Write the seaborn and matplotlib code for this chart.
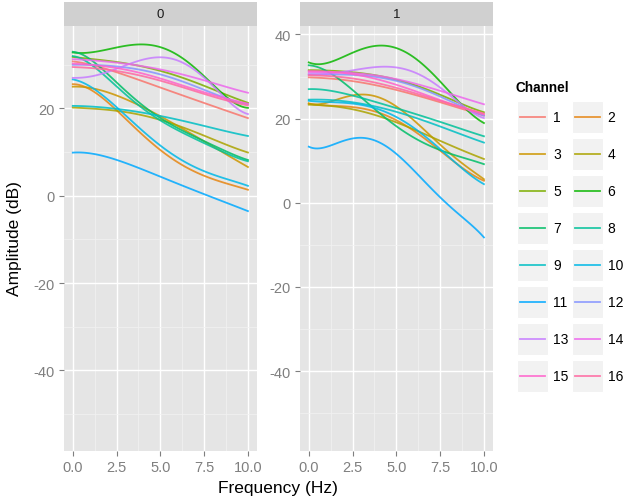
import numpy as np
import pandas as pd
import matplotlib
matplotlib.use("Agg")
import matplotlib.pyplot as plt
from matplotlib.patches import Rectangle
from matplotlib.lines import Line2D
import seaborn as sns

# ---------------------------------------------------------------- data
freq = [0, 1.25, 2.5, 3.75, 5, 6.25, 7.5, 8.75, 10]
channels = list(range(1, 17))
conditions = ["0", "1"]

# condition 0, smoothed amplitude (dB) per channel
c0_ch1 = [30.8, 29.8, 28.3, 26.6, 24.8, 23.0, 21.3, 19.5, 17.8]
c0_ch2 = [25.6, 23.6, 19.8, 14.8, 10.3, 7.2, 4.6, 2.8, 1.4]
c0_ch3 = [25.0, 24.5, 23.0, 20.8, 18.2, 15.4, 12.5, 9.5, 6.6]
c0_ch4 = [20.2, 20.0, 19.4, 18.6, 17.5, 15.7, 13.7, 11.8, 9.9]
c0_ch5 = [31.8, 31.3, 30.6, 29.8, 28.7, 27.0, 25.2, 23.2, 21.3]
c0_ch6 = [32.8, 33.1, 33.8, 34.7, 34.1, 31.7, 27.1, 22.9, 20.1]
c0_ch7 = [33.0, 30.5, 26.0, 21.5, 17.8, 15.0, 12.5, 10.2, 8.2]
c0_ch8 = [32.0, 29.5, 25.0, 20.8, 17.3, 14.5, 12.0, 9.8, 7.9]
c0_ch9 = [20.6, 20.4, 19.9, 19.2, 18.3, 17.2, 16.0, 14.8, 13.7]
c0_ch10 = [26.7, 24.2, 20.6, 15.6, 11.4, 8.2, 5.7, 3.8, 2.3]
c0_ch11 = [9.9, 9.5, 8.3, 6.4, 4.3, 2.4, 0.4, -1.6, -3.5]
c0_ch12 = [30.0, 30.0, 29.6, 28.9, 27.9, 26.2, 24.2, 22.4, 21.0]
c0_ch13 = [27.0, 27.6, 29.0, 30.9, 31.8, 30.6, 26.9, 22.3, 18.7]
c0_ch14 = [31.3, 31.0, 30.5, 29.8, 29.0, 27.8, 26.4, 25.0, 23.6]
c0_ch15 = [30.3, 29.9, 29.3, 28.2, 26.9, 25.3, 23.7, 22.3, 21.1]
c0_ch16 = [29.5, 29.2, 28.6, 27.6, 26.4, 24.9, 23.3, 21.9, 20.7]

# condition 1, smoothed amplitude (dB) per channel
c1_ch1 = [29.8, 29.5, 28.9, 28.0, 26.8, 25.4, 23.9, 22.3, 20.7]
c1_ch2 = [23.5, 23.2, 22.6, 21.6, 19.9, 16.3, 12.2, 8.5, 5.2]
c1_ch3 = [23.6, 24.2, 25.2, 25.6, 22.9, 18.5, 13.9, 9.4, 5.6]
c1_ch4 = [23.3, 23.0, 22.2, 20.9, 19.1, 17.0, 14.7, 12.5, 10.4]
c1_ch5 = [31.5, 31.4, 31.0, 30.3, 29.3, 27.7, 25.6, 23.5, 21.5]
c1_ch6 = [33.3, 33.7, 35.3, 37.3, 37.0, 33.7, 28.6, 23.4, 18.9]
c1_ch7 = [32.7, 30.6, 27.0, 22.3, 18.0, 15.0, 12.6, 10.7, 9.2]
c1_ch8 = [27.0, 26.6, 25.5, 24.0, 22.5, 20.9, 19.2, 17.5, 15.8]
c1_ch9 = [24.5, 24.4, 23.9, 22.9, 21.6, 20.0, 18.1, 16.2, 14.3]
c1_ch10 = [24.2, 24.0, 23.5, 22.4, 20.6, 17.0, 12.6, 8.3, 4.4]
c1_ch11 = [13.3, 13.8, 14.8, 15.4, 11.4, 6.4, 1.6, -3.5, -8.2]
c1_ch12 = [30.5, 30.5, 30.4, 29.9, 29.0, 27.4, 25.2, 22.9, 20.7]
c1_ch13 = [30.5, 30.8, 31.4, 32.1, 32.3, 30.7, 27.1, 23.4, 20.1]
c1_ch14 = [31.0, 31.0, 30.8, 30.3, 29.4, 28.1, 26.6, 25.0, 23.4]
c1_ch15 = [31.3, 31.1, 30.6, 29.5, 28.0, 26.3, 24.4, 22.6, 21.0]
c1_ch16 = [30.3, 30.1, 29.5, 28.6, 27.3, 25.8, 24.2, 22.7, 21.2]

x_ticks = [0.0, 2.5, 5.0, 7.5, 10.0]
y_ticks = [-40, -20, 0, 20, 40]

series = {
    "0": [c0_ch1, c0_ch2, c0_ch3, c0_ch4, c0_ch5, c0_ch6, c0_ch7, c0_ch8,
          c0_ch9, c0_ch10, c0_ch11, c0_ch12, c0_ch13, c0_ch14, c0_ch15, c0_ch16],
    "1": [c1_ch1, c1_ch2, c1_ch3, c1_ch4, c1_ch5, c1_ch6, c1_ch7, c1_ch8,
          c1_ch9, c1_ch10, c1_ch11, c1_ch12, c1_ch13, c1_ch14, c1_ch15, c1_ch16],
}

rows = []
for cond in conditions:
    for ch, vals in zip(channels, series[cond]):
        for f, a in zip(freq, vals):
            rows.append({"cond": cond, "Channel": ch, "Frequency": f, "Amplitude": a})
df = pd.DataFrame(rows)


# ------------------------------------------------------- hue palette (HCL)
def hcl_to_hex(h, c=100.0, l=65.0):
    Xn, Yn, Zn = 95.047, 100.0, 108.883
    U = c * np.cos(np.radians(h))
    V = c * np.sin(np.radians(h))
    Y = Yn * ((l + 16) / 116) ** 3 if l > 8 else Yn * l / 903.3
    un = 4 * Xn / (Xn + 15 * Yn + 3 * Zn)
    vn = 9 * Yn / (Xn + 15 * Yn + 3 * Zn)
    up = U / (13 * l) + un
    vp = V / (13 * l) + vn
    X = 9.0 * Y * up / (4 * vp)
    Z = -X / 3 - 5 * Y + 3 * Y / vp
    xyz = np.array([X, Y, Z]) / 100.0
    M = np.array([[3.240479, -1.537150, -0.498535],
                  [-0.969256, 1.875992, 0.041556],
                  [0.055648, -0.204043, 1.057311]])
    rgb = M @ xyz

    def gam(u):
        return 12.92 * u if u <= 0.0031308 else 1.055 * u ** (1 / 2.4) - 0.055

    rgb = np.clip([gam(u) for u in rgb], 0, 1)
    return matplotlib.colors.to_hex(rgb)


n = len(channels)
hues = np.linspace(15, 375, n + 1)[:-1]
palette = {ch: hcl_to_hex(h) for ch, h in zip(channels, hues)}

# ------------------------------------------------------------- figure
W, H = 625, 502
plt.rcParams["font.family"] = ["Liberation Sans", "DejaVu Sans"]
fig = plt.figure(figsize=(W / 100, H / 100), dpi=100)


def px_axes(l, t, r, b, **kw):
    return fig.add_axes([l / W, 1 - b / H, (r - l) / W, (b - t) / H], **kw)


panel_px = {"0": (64, 256.7), "1": (300, 492.7)}
ylims = {"0": (-58.4, 38.9), "1": (-58.9, 42.0)}
top, bottom = 27, 451.7
grey50 = "#7F7F7F"

for cond in conditions:
    l, r = panel_px[cond]
    ax = px_axes(l, top, r, bottom)
    ax.set_facecolor("#E5E5E5")
    sub = df[df["cond"] == cond]
    for ch in channels:
        d = sub[sub["Channel"] == ch]
        sns.regplot(data=d, x="Frequency", y="Amplitude", ax=ax, order=5,
                    ci=None, scatter=False, truncate=True,
                    line_kws=dict(color=palette[ch], lw=1.3, alpha=0.85))
    ax.set_xlim(-0.5, 10.5)
    ax.set_ylim(*ylims[cond])
    lo, hi = ylims[cond]
    ax.set_xticks(x_ticks)
    ax.set_xticklabels([f"{v:.1f}" for v in x_ticks])
    yt = [v for v in y_ticks if lo <= v <= hi]
    ax.set_yticks(yt)
    ax.set_yticklabels([str(v) for v in yt])
    ax.set_xticks([1.25, 3.75, 6.25, 8.75], minor=True)
    ax.set_yticks([v for v in [-50, -30, -10, 10, 30] if lo <= v <= hi], minor=True)
    ax.grid(which="major", color="white", lw=1.0)
    ax.grid(which="minor", color="#F2F2F2", lw=0.5)
    ax.set_axisbelow(True)
    for s in ax.spines.values():
        s.set_visible(False)
    ax.tick_params(which="major", length=3.6, width=0.8, color=grey50,
                   labelcolor=grey50, labelsize=10.5, pad=3.2)
    ax.tick_params(which="minor", length=0)
    ax.set_xlabel("")
    ax.set_ylabel("")

    # facet strip
    sax = px_axes(l, 3, r, top)
    sax.set_facecolor("#D0D0D0")
    sax.set_xticks([])
    sax.set_yticks([])
    for s in sax.spines.values():
        s.set_visible(False)
    sax.text(0.5, 0.5, cond, ha="center", va="center", fontsize=9.5,
             color="#1A1A1A", transform=sax.transAxes)

fig.text(278.3 / W, 1 - 489 / H, "Frequency (Hz)", ha="center", va="center",
         fontsize=12.5, color="black")
fig.text(15 / W, 1 - 239 / H, "Amplitude (dB)", ha="center", va="center",
         rotation=90, fontsize=12.5, color="black")

# ------------------------------------------------------------- legend
lax = fig.add_axes([0, 0, 1, 1])
lax.set_xlim(0, W)
lax.set_ylim(H, 0)
lax.axis("off")
lax.text(515, 88, "Channel", ha="left", va="center", fontsize=9.8,
         fontweight="bold", color="black")
box_x = [516.7, 571.7]
lab_x = [553.3, 607.7]
for i, ch in enumerate(channels):
    row, col = divmod(i, 2)
    y0 = 102.3 + row * 37.0
    lax.add_patch(Rectangle((box_x[col], y0), 31.6, 32, facecolor="#F2F2F2",
                            edgecolor="white", lw=0.8))
    yc = y0 + 16
    lax.add_line(Line2D([box_x[col] + 3, box_x[col] + 28.6], [yc, yc],
                        color=palette[ch], lw=1.3, alpha=0.85))
    lax.text(lab_x[col], yc, str(ch), ha="left", va="center", fontsize=10,
             color="black")

fig.savefig("out.png", dpi=100)
